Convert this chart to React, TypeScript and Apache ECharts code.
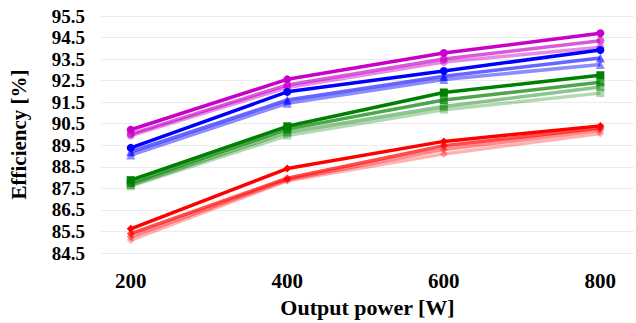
import React, { useEffect, useRef } from "react";
import * as echarts from "echarts";

const powers = [200, 400, 600, 800];
const yTicks = [84.5, 85.5, 86.5, 87.5, 88.5, 89.5, 90.5, 91.5, 92.5, 93.5, 94.5, 95.5];

const magenta1 = [90.22, 92.56, 93.78, 94.7];
const magenta2 = [90.02, 92.3, 93.5, 94.35];
const magenta3 = [89.95, 92.18, 93.36, 94.05];

const blue1 = [89.38, 91.98, 92.95, 93.92];
const blue2 = [89.2, 91.6, 92.7, 93.55];
const blue3 = [89.05, 91.45, 92.55, 93.25];

const green1 = [87.88, 90.38, 91.95, 92.75];
const green2 = [87.75, 90.25, 91.6, 92.42];
const green3 = [87.65, 90.1, 91.3, 92.2];
const green4 = [87.6, 89.95, 91.15, 91.92];

const red1 = [85.62, 88.42, 89.68, 90.4];
const red2 = [85.4, 87.97, 89.48, 90.3];
const red3 = [85.25, 87.9, 89.3, 90.2];
const red4 = [85.1, 87.85, 89.1, 90.05];

const FONT = "Liberation Serif";

type Def = { data: number[]; color: string; symbol: string; opacity: number; z: number };

const defs: Def[] = [
  { data: red4, color: "#ff0000", symbol: "diamond", opacity: 0.3, z: 1 },
  { data: red3, color: "#ff0000", symbol: "diamond", opacity: 0.45, z: 2 },
  { data: red2, color: "#ff0000", symbol: "diamond", opacity: 0.7, z: 3 },
  { data: red1, color: "#ff0000", symbol: "diamond", opacity: 1, z: 4 },
  { data: green4, color: "#008000", symbol: "rect", opacity: 0.3, z: 1 },
  { data: green3, color: "#008000", symbol: "rect", opacity: 0.45, z: 2 },
  { data: green2, color: "#008000", symbol: "rect", opacity: 0.7, z: 3 },
  { data: green1, color: "#008000", symbol: "rect", opacity: 1, z: 4 },
  { data: blue3, color: "#0000ff", symbol: "triangle", opacity: 0.45, z: 2 },
  { data: blue2, color: "#0000ff", symbol: "triangle", opacity: 0.6, z: 3 },
  { data: blue1, color: "#0000ff", symbol: "circle", opacity: 1, z: 4 },
  { data: magenta3, color: "#c800c8", symbol: "circle", opacity: 0.45, z: 2 },
  { data: magenta2, color: "#c800c8", symbol: "circle", opacity: 0.65, z: 3 },
  { data: magenta1, color: "#c800c8", symbol: "circle", opacity: 1, z: 4 },
];

export default function App() {
  const ref = useRef<HTMLDivElement>(null);
  useEffect(() => {
    if (!ref.current) return;
    const chart = echarts.init(ref.current, null, { renderer: "svg" });
    chart.setOption({
      animation: false,
      backgroundColor: "#ffffff",
      grid: { left: 97, right: 2, top: 16, bottom: 65, containLabel: false },
      xAxis: {
        type: "value",
        min: 162,
        max: 843,
        name: "Output power [W]",
        nameLocation: "middle",
        nameGap: 43,
        nameTextStyle: { fontFamily: FONT, fontWeight: "bold", fontSize: 22, color: "#000" },
        axisLine: { show: false },
        axisTick: { show: false },
        splitLine: { show: false },
        axisLabel: {
          customValues: powers,
          margin: 17,
          fontFamily: FONT,
          fontWeight: "bold",
          fontSize: 21,
          color: "#000",
        },
      },
      yAxis: {
        type: "value",
        min: yTicks[0],
        max: yTicks[yTicks.length - 1],
        interval: 1,
        name: "Efficiency [%]",
        nameLocation: "middle",
        nameGap: 72,
        nameTextStyle: { fontFamily: FONT, fontWeight: "bold", fontSize: 21, color: "#000" },
        axisLine: { show: false },
        axisTick: { show: false },
        splitLine: { show: true, lineStyle: { color: "#ebebeb", width: 1 } },
        axisLabel: {
          margin: 16,
          fontFamily: FONT,
          fontWeight: "bold",
          fontSize: 19,
          lineHeight: 19,
          color: "#000",
          formatter: (v: number) => v.toFixed(1),
        },
      },
      series: defs.map((d) => ({
        type: "line",
        data: powers.map((p, i) => [p, d.data[i]]),
        symbol: d.symbol,
        symbolSize: d.symbol === "triangle" ? 9 : 8,
        z: d.z,
        lineStyle: { color: d.color, width: 3.5, opacity: d.opacity },
        itemStyle: { color: d.color, opacity: d.opacity },
        emphasis: { disabled: true },
      })),
    });
    return () => chart.dispose();
  }, []);
  return (
    <div
      ref={ref}
      style={{ position: "absolute", left: 0, top: 0, width: 636, height: 323 }}
    />
  );
}
